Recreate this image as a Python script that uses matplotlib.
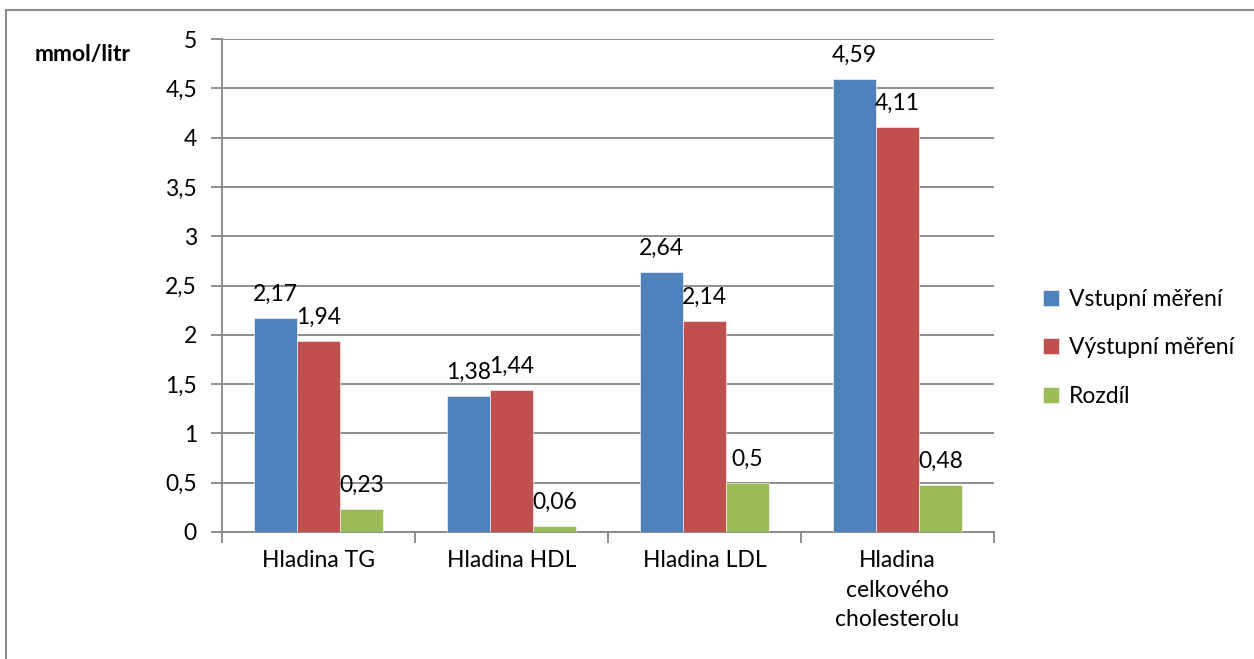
import matplotlib
matplotlib.use("Agg")
from matplotlib import pyplot as plt
from matplotlib.patches import Rectangle
from matplotlib.ticker import FuncFormatter, FixedLocator
import numpy as np

plt.rcParams['font.family'] = ['Lato', 'DejaVu Sans']

categories = ["Hladina TG", "Hladina HDL", "Hladina LDL", "Hladina\ncelkového\ncholesterolu"]
vstupni = [2.17, 1.38, 2.64, 4.59]
vystupni = [1.94, 1.44, 2.14, 4.11]
rozdil = [0.23, 0.06, 0.50, 0.48]
series_names = ["Vstupní měření", "Výstupní měření", "Rozdíl"]
colors = ["#4F81BD", "#C0504D", "#9BBB59"]

FS = 16.5

fig = plt.figure(figsize=(12.54, 6.59), dpi=100)
ax = fig.add_axes([222/1254, 1 - 532/659, (994-222)/1254, (532-39)/659])

# outer chart border (clipped like the original)
fig.patches.append(Rectangle((6/1254, -0.1), 1.2, 1 - 10/659 + 0.1, transform=fig.transFigure,
                             fill=False, edgecolor="#8c8c8c", linewidth=1.5))

x = np.arange(len(categories))
w = 0.222
for j, (vals, name, c) in enumerate(zip([vstupni, vystupni, rozdil], series_names, colors)):
    pos = x + (j - 1) * w
    ax.bar(pos, vals, width=w, color=c, label=name, edgecolor="white", linewidth=0.4, zorder=3)
    for px, v in zip(pos, vals):
        lab = ("%g" % v).replace(".", ",")
        ax.annotate(lab, (px, v), xytext=(0, 17), textcoords="offset points",
                    ha="center", va="center", fontsize=FS, zorder=4)

ax.set_xlim(-0.5, len(categories) - 0.5)
ax.set_ylim(0, 5)
ax.set_yticks(np.arange(0, 5.01, 0.5))
ax.yaxis.set_major_formatter(FuncFormatter(lambda v, p: ("%g" % v).replace(".", ",")))
ax.grid(axis="y", color="#868686", linewidth=1.3, zorder=0)
ax.set_axisbelow(True)

ax.set_xticks(x)
ax.set_xticklabels(categories, fontsize=FS, linespacing=1.5)
ax.tick_params(axis="x", length=0, pad=13)
ax.xaxis.set_minor_locator(FixedLocator(np.arange(-0.5, len(categories), 1.0)))
ax.tick_params(axis="x", which="minor", length=8, width=1.3, color="#868686")
ax.tick_params(axis="y", length=8, width=1.3, color="#868686", labelsize=FS, pad=10)

for s in ["top", "right"]:
    ax.spines[s].set_visible(False)
for s in ["left", "bottom"]:
    ax.spines[s].set_color("#868686")
    ax.spines[s].set_linewidth(1.3)

fig.text(35/1254, 1 - 55/659, "mmol/litr", fontsize=FS, fontweight="bold", va="center", ha="left")

fig.legend(loc="upper left", bbox_to_anchor=(1022/1254, 1 - 268/659), frameon=False,
           fontsize=FS, handlelength=0.7, handleheight=0.7, handletextpad=0.45,
           labelspacing=1.2)

fig.savefig("out.png", dpi=100)
